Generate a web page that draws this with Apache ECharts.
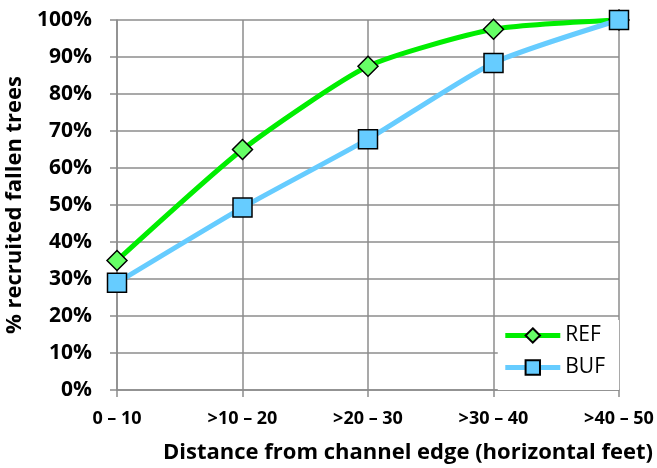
<!DOCTYPE html>
<html><head><meta charset="utf-8">
<script src="https://cdn.jsdelivr.net/npm/echarts@6/dist/echarts.min.js"></script>
<style>html,body{margin:0;padding:0;background:#fff}#c{width:657px;height:468px}</style>
</head><body><div id="c"></div>
<script>
const categories = ['0 – 10', '>10 – 20', '>20 – 30', '>30 – 40', '>40 – 50'];
const refValues = [35, 65, 87.5, 97.5, 100];
const bufValues = [29, 49.3, 67.8, 88.4, 100];
const seriesNames = ['REF', 'BUF'];
const yTitle = '% recruited fallen trees';
const xTitle = 'Distance from channel edge (horizontal feet)';

const font = '"Open Sans", "DejaVu Sans", sans-serif';
const chart = echarts.init(document.getElementById('c'));
chart.setOption({
  animation: false,
  grid: {left: 117, right: 38, top: 20, bottom: 78, containLabel: false, outerBoundsMode: 'none'},
  legend: {
    data: seriesNames,
    orient: 'vertical',
    right: 38, bottom: 78,
    backgroundColor: '#fff',
    padding: [5, 14, 12, 5],
    itemGap: 11,
    itemWidth: 55, itemHeight: 18,
    lineStyle: {width: 5},
    textStyle: {fontFamily: font, fontSize: 21, color: '#000'}
  },
  xAxis: {
    type: 'category', data: categories, boundaryGap: false,
    name: xTitle, nameLocation: 'middle', nameGap: 52,
    nameTextStyle: {fontFamily: font, fontSize: 22, fontWeight: 'bold', color: '#000', padding: [0, 0, 0, 80]},
    axisLine: {lineStyle: {color: '#8c8c8c', width: 1.5}},
    axisTick: {show: true, length: 7, inside: false, lineStyle: {color: '#8c8c8c', width: 1.5}},
    splitLine: {show: true, lineStyle: {color: '#8c8c8c', width: 1.5}},
    axisLabel: {fontFamily: font, fontSize: 18, fontWeight: 'bold', color: '#000', margin: 20}
  },
  yAxis: {
    type: 'value', min: 0, max: 100, interval: 10,
    name: yTitle, nameLocation: 'middle', nameGap: 74, nameRotate: 90,
    nameTextStyle: {fontFamily: font, fontSize: 22, fontWeight: 'bold', color: '#000'},
    axisLine: {show: true, lineStyle: {color: '#8c8c8c', width: 1.5}},
    axisTick: {show: true, length: 7, lineStyle: {color: '#8c8c8c', width: 1.5}},
    splitLine: {show: true, lineStyle: {color: '#8c8c8c', width: 1.5}},
    axisLabel: {fontFamily: font, fontSize: 21, fontWeight: 'bold', color: '#000', margin: 25, formatter: '{value}%'}
  },
  series: [
    {
      name: seriesNames[0], type: 'line', data: refValues, smooth: 0.2,
      symbol: 'diamond', symbolSize: 20,
      lineStyle: {color: '#00ee00', width: 5},
      itemStyle: {color: '#66ff66', borderColor: '#000', borderWidth: 1.5},
      z: 2
    },
    {
      name: seriesNames[1], type: 'line', data: bufValues, smooth: 0.2,
      symbol: 'rect', symbolSize: 19,
      lineStyle: {color: '#66ccff', width: 5},
      itemStyle: {color: '#66ccff', borderColor: '#000', borderWidth: 1.5},
      z: 3
    }
  ]
});
</script></body></html>
